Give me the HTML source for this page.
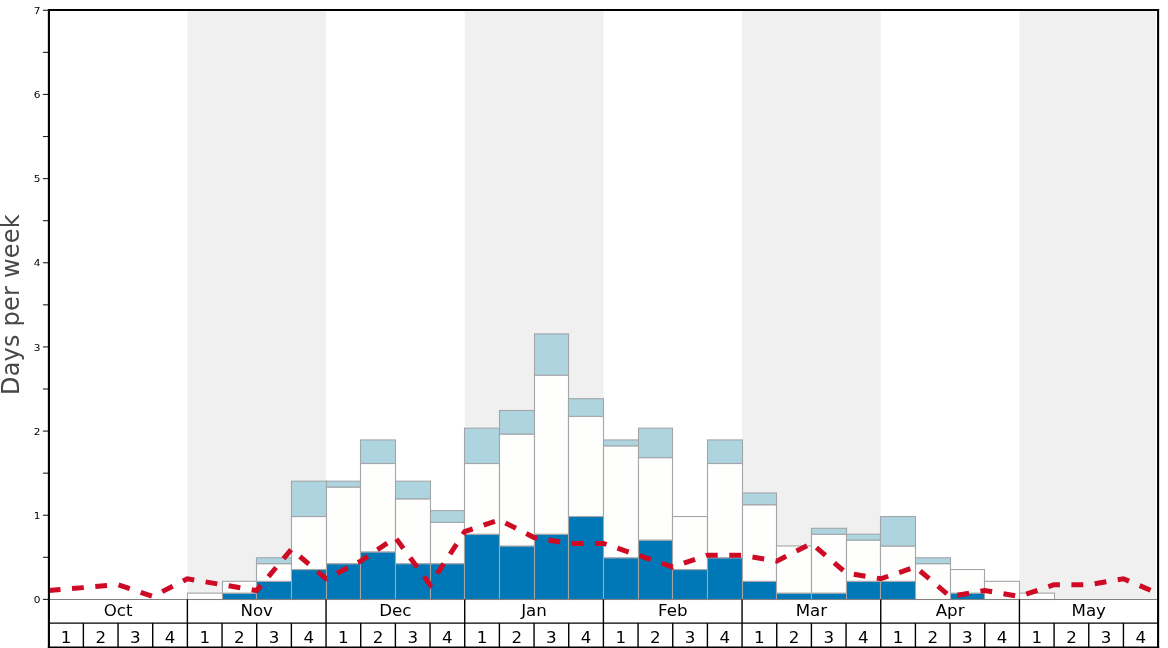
<!DOCTYPE html>
<html lang="en"><head><meta charset="utf-8"><title>Days per week</title>
<style>html,body{margin:0;padding:0;background:#fff;overflow:hidden}svg{display:block}text{font-family:"DejaVu Sans", "Liberation Sans", sans-serif}</style></head><body>
<svg width="1168" height="648" viewBox="0 0 1168 648">
<rect width="1168" height="648" fill="#fff"/>
<rect x="187.38" y="11.00" width="138.67" height="588.50" fill="#f0f0f0"/>
<rect x="464.72" y="11.00" width="138.67" height="588.50" fill="#f0f0f0"/>
<rect x="742.07" y="11.00" width="138.67" height="588.50" fill="#f0f0f0"/>
<rect x="1019.42" y="11.00" width="136.58" height="588.50" fill="#f0f0f0"/>
<g stroke="#a3a6a9" stroke-width="1.1">
<rect x="187.50" y="593.11" width="35.00" height="6.39" fill="#fefefc"/>
<rect x="222.50" y="593.11" width="34.00" height="6.39" fill="#0077b6"/>
<rect x="222.50" y="581.33" width="34.00" height="11.78" fill="#fefefc"/>
<rect x="256.50" y="581.33" width="35.00" height="18.17" fill="#0077b6"/>
<rect x="256.50" y="563.65" width="35.00" height="17.67" fill="#fefefc"/>
<rect x="256.50" y="557.76" width="35.00" height="5.89" fill="#aed4df"/>
<rect x="291.50" y="569.54" width="35.00" height="29.96" fill="#0077b6"/>
<rect x="291.50" y="516.52" width="35.00" height="53.02" fill="#fefefc"/>
<rect x="291.50" y="481.18" width="35.00" height="35.35" fill="#aed4df"/>
<rect x="326.50" y="563.65" width="34.00" height="35.85" fill="#0077b6"/>
<rect x="326.50" y="487.07" width="34.00" height="76.59" fill="#fefefc"/>
<rect x="326.50" y="481.18" width="34.00" height="5.89" fill="#aed4df"/>
<rect x="360.50" y="551.87" width="35.00" height="47.63" fill="#0077b6"/>
<rect x="360.50" y="463.50" width="35.00" height="88.37" fill="#fefefc"/>
<rect x="360.50" y="439.94" width="35.00" height="23.56" fill="#aed4df"/>
<rect x="395.50" y="563.65" width="35.00" height="35.85" fill="#0077b6"/>
<rect x="395.50" y="498.85" width="35.00" height="64.80" fill="#fefefc"/>
<rect x="395.50" y="481.18" width="35.00" height="17.67" fill="#aed4df"/>
<rect x="430.50" y="563.65" width="34.00" height="35.85" fill="#0077b6"/>
<rect x="430.50" y="522.41" width="34.00" height="41.24" fill="#fefefc"/>
<rect x="430.50" y="510.63" width="34.00" height="11.78" fill="#aed4df"/>
<rect x="464.50" y="534.20" width="35.00" height="65.30" fill="#0077b6"/>
<rect x="464.50" y="463.50" width="35.00" height="70.69" fill="#fefefc"/>
<rect x="464.50" y="428.16" width="35.00" height="35.35" fill="#aed4df"/>
<rect x="499.50" y="545.98" width="35.00" height="53.52" fill="#0077b6"/>
<rect x="499.50" y="434.05" width="35.00" height="111.93" fill="#fefefc"/>
<rect x="499.50" y="410.48" width="35.00" height="23.56" fill="#aed4df"/>
<rect x="534.50" y="534.20" width="34.00" height="65.30" fill="#0077b6"/>
<rect x="534.50" y="375.13" width="34.00" height="159.06" fill="#fefefc"/>
<rect x="534.50" y="333.90" width="34.00" height="41.24" fill="#aed4df"/>
<rect x="568.50" y="516.52" width="35.00" height="82.98" fill="#0077b6"/>
<rect x="568.50" y="416.37" width="35.00" height="100.15" fill="#fefefc"/>
<rect x="568.50" y="398.70" width="35.00" height="17.67" fill="#aed4df"/>
<rect x="603.50" y="557.76" width="35.00" height="41.74" fill="#0077b6"/>
<rect x="603.50" y="445.83" width="35.00" height="111.93" fill="#fefefc"/>
<rect x="603.50" y="439.94" width="35.00" height="5.89" fill="#aed4df"/>
<rect x="638.50" y="540.09" width="34.00" height="59.41" fill="#0077b6"/>
<rect x="638.50" y="457.61" width="34.00" height="82.48" fill="#fefefc"/>
<rect x="638.50" y="428.16" width="34.00" height="29.46" fill="#aed4df"/>
<rect x="672.50" y="569.54" width="35.00" height="29.96" fill="#0077b6"/>
<rect x="672.50" y="516.52" width="35.00" height="53.02" fill="#fefefc"/>
<rect x="707.50" y="557.76" width="35.00" height="41.74" fill="#0077b6"/>
<rect x="707.50" y="463.50" width="35.00" height="94.26" fill="#fefefc"/>
<rect x="707.50" y="439.94" width="35.00" height="23.56" fill="#aed4df"/>
<rect x="742.50" y="581.33" width="34.00" height="18.17" fill="#0077b6"/>
<rect x="742.50" y="504.74" width="34.00" height="76.59" fill="#fefefc"/>
<rect x="742.50" y="492.96" width="34.00" height="11.78" fill="#aed4df"/>
<rect x="776.50" y="593.11" width="35.00" height="6.39" fill="#0077b6"/>
<rect x="776.50" y="545.98" width="35.00" height="47.13" fill="#fefefc"/>
<rect x="811.50" y="593.11" width="35.00" height="6.39" fill="#0077b6"/>
<rect x="811.50" y="534.20" width="35.00" height="58.91" fill="#fefefc"/>
<rect x="811.50" y="528.31" width="35.00" height="5.89" fill="#aed4df"/>
<rect x="846.50" y="581.33" width="34.00" height="18.17" fill="#0077b6"/>
<rect x="846.50" y="540.09" width="34.00" height="41.24" fill="#fefefc"/>
<rect x="846.50" y="534.20" width="34.00" height="5.89" fill="#aed4df"/>
<rect x="880.50" y="581.33" width="35.00" height="18.17" fill="#0077b6"/>
<rect x="880.50" y="545.98" width="35.00" height="35.35" fill="#fefefc"/>
<rect x="880.50" y="516.52" width="35.00" height="29.46" fill="#aed4df"/>
<rect x="915.50" y="563.65" width="35.00" height="35.85" fill="#fefefc"/>
<rect x="915.50" y="557.76" width="35.00" height="5.89" fill="#aed4df"/>
<rect x="950.50" y="593.11" width="34.00" height="6.39" fill="#0077b6"/>
<rect x="950.50" y="569.54" width="34.00" height="23.56" fill="#fefefc"/>
<rect x="984.50" y="581.33" width="35.00" height="18.17" fill="#fefefc"/>
<rect x="1019.50" y="593.11" width="35.00" height="6.39" fill="#fefefc"/>
</g>
<line x1="48.70" y1="599.50" x2="1158.10" y2="599.50" stroke="#808080" stroke-width="1.2"/>
<polyline points="48.70,590.56 83.37,587.62 118.04,584.67 152.71,596.45 187.38,578.78 222.04,584.67 256.71,590.56 291.38,549.32 326.05,578.78 360.72,561.11 395.39,537.54 430.06,584.67 464.72,531.65 499.39,519.87 534.06,537.54 568.73,543.43 603.40,543.43 638.07,555.22 672.74,567.00 707.41,555.22 742.07,555.22 776.74,561.11 811.41,543.43 846.08,572.89 880.75,578.78 915.42,567.00 950.09,596.45 984.76,590.56 1019.42,596.45 1054.09,584.67 1088.76,584.67 1123.43,578.78 1158.10,593.51" fill="none" stroke="#ce0a24" stroke-width="5.0" stroke-dasharray="11.85 11.52" stroke-linejoin="miter"/>
<g stroke="#222" stroke-width="1.1">
<line x1="42.90" y1="599.40" x2="48.70" y2="599.40"/>
<line x1="42.90" y1="557.32" x2="48.70" y2="557.32"/>
<line x1="42.90" y1="515.24" x2="48.70" y2="515.24"/>
<line x1="42.90" y1="473.16" x2="48.70" y2="473.16"/>
<line x1="42.90" y1="431.08" x2="48.70" y2="431.08"/>
<line x1="42.90" y1="389.00" x2="48.70" y2="389.00"/>
<line x1="42.90" y1="346.92" x2="48.70" y2="346.92"/>
<line x1="42.90" y1="304.84" x2="48.70" y2="304.84"/>
<line x1="42.90" y1="262.76" x2="48.70" y2="262.76"/>
<line x1="42.90" y1="220.68" x2="48.70" y2="220.68"/>
<line x1="42.90" y1="178.60" x2="48.70" y2="178.60"/>
<line x1="42.90" y1="136.52" x2="48.70" y2="136.52"/>
<line x1="42.90" y1="94.44" x2="48.70" y2="94.44"/>
<line x1="42.90" y1="52.36" x2="48.70" y2="52.36"/>
<line x1="42.90" y1="10.28" x2="48.70" y2="10.28"/>
</g>
<g font-size="9.5" fill="#000" text-anchor="end">
<text x="40.50" y="603.00" textLength="6.7" lengthAdjust="spacingAndGlyphs">0</text>
<text x="40.50" y="518.84" textLength="6.7" lengthAdjust="spacingAndGlyphs">1</text>
<text x="40.50" y="434.68" textLength="6.7" lengthAdjust="spacingAndGlyphs">2</text>
<text x="40.50" y="350.52" textLength="6.7" lengthAdjust="spacingAndGlyphs">3</text>
<text x="40.50" y="266.36" textLength="6.7" lengthAdjust="spacingAndGlyphs">4</text>
<text x="40.50" y="182.20" textLength="6.7" lengthAdjust="spacingAndGlyphs">5</text>
<text x="40.50" y="98.04" textLength="6.7" lengthAdjust="spacingAndGlyphs">6</text>
<text x="40.50" y="13.88" textLength="6.7" lengthAdjust="spacingAndGlyphs">7</text>
</g>
<g stroke="#000" stroke-width="2.1" fill="none">
<path d="M48.9 648 V10 H1158.1 V648"/>
</g>
<g stroke="#000" stroke-width="1.4">
<line x1="48.70" y1="623.1" x2="1158.10" y2="623.1"/>
<line x1="47.85" y1="647.55" x2="1159.15" y2="647.55" stroke-width="2"/>
<line x1="187.38" y1="599.40" x2="187.38" y2="623.1"/>
<line x1="326.05" y1="599.40" x2="326.05" y2="623.1"/>
<line x1="464.72" y1="599.40" x2="464.72" y2="623.1"/>
<line x1="603.40" y1="599.40" x2="603.40" y2="623.1"/>
<line x1="742.07" y1="599.40" x2="742.07" y2="623.1"/>
<line x1="880.75" y1="599.40" x2="880.75" y2="623.1"/>
<line x1="1019.42" y1="599.40" x2="1019.42" y2="623.1"/>
<line x1="83.37" y1="623.1" x2="83.37" y2="648"/>
<line x1="118.04" y1="623.1" x2="118.04" y2="648"/>
<line x1="152.71" y1="623.1" x2="152.71" y2="648"/>
<line x1="187.38" y1="623.1" x2="187.38" y2="648"/>
<line x1="222.04" y1="623.1" x2="222.04" y2="648"/>
<line x1="256.71" y1="623.1" x2="256.71" y2="648"/>
<line x1="291.38" y1="623.1" x2="291.38" y2="648"/>
<line x1="326.05" y1="623.1" x2="326.05" y2="648"/>
<line x1="360.72" y1="623.1" x2="360.72" y2="648"/>
<line x1="395.39" y1="623.1" x2="395.39" y2="648"/>
<line x1="430.06" y1="623.1" x2="430.06" y2="648"/>
<line x1="464.72" y1="623.1" x2="464.72" y2="648"/>
<line x1="499.39" y1="623.1" x2="499.39" y2="648"/>
<line x1="534.06" y1="623.1" x2="534.06" y2="648"/>
<line x1="568.73" y1="623.1" x2="568.73" y2="648"/>
<line x1="603.40" y1="623.1" x2="603.40" y2="648"/>
<line x1="638.07" y1="623.1" x2="638.07" y2="648"/>
<line x1="672.74" y1="623.1" x2="672.74" y2="648"/>
<line x1="707.41" y1="623.1" x2="707.41" y2="648"/>
<line x1="742.07" y1="623.1" x2="742.07" y2="648"/>
<line x1="776.74" y1="623.1" x2="776.74" y2="648"/>
<line x1="811.41" y1="623.1" x2="811.41" y2="648"/>
<line x1="846.08" y1="623.1" x2="846.08" y2="648"/>
<line x1="880.75" y1="623.1" x2="880.75" y2="648"/>
<line x1="915.42" y1="623.1" x2="915.42" y2="648"/>
<line x1="950.09" y1="623.1" x2="950.09" y2="648"/>
<line x1="984.76" y1="623.1" x2="984.76" y2="648"/>
<line x1="1019.42" y1="623.1" x2="1019.42" y2="648"/>
<line x1="1054.09" y1="623.1" x2="1054.09" y2="648"/>
<line x1="1088.76" y1="623.1" x2="1088.76" y2="648"/>
<line x1="1123.43" y1="623.1" x2="1123.43" y2="648"/>
</g>
<g font-size="16.67" fill="#000" text-anchor="middle">
<text x="118.04" y="616">Oct</text>
<text x="256.71" y="616">Nov</text>
<text x="395.39" y="616">Dec</text>
<text x="534.06" y="616">Jan</text>
<text x="672.74" y="616">Feb</text>
<text x="811.41" y="616">Mar</text>
<text x="950.09" y="616">Apr</text>
<text x="1088.76" y="616">May</text>
<text x="66.03" y="642.9">1</text>
<text x="100.70" y="642.9">2</text>
<text x="135.37" y="642.9">3</text>
<text x="170.04" y="642.9">4</text>
<text x="204.71" y="642.9">1</text>
<text x="239.38" y="642.9">2</text>
<text x="274.05" y="642.9">3</text>
<text x="308.72" y="642.9">4</text>
<text x="343.38" y="642.9">1</text>
<text x="378.05" y="642.9">2</text>
<text x="412.72" y="642.9">3</text>
<text x="447.39" y="642.9">4</text>
<text x="482.06" y="642.9">1</text>
<text x="516.73" y="642.9">2</text>
<text x="551.40" y="642.9">3</text>
<text x="586.07" y="642.9">4</text>
<text x="620.73" y="642.9">1</text>
<text x="655.40" y="642.9">2</text>
<text x="690.07" y="642.9">3</text>
<text x="724.74" y="642.9">4</text>
<text x="759.41" y="642.9">1</text>
<text x="794.08" y="642.9">2</text>
<text x="828.75" y="642.9">3</text>
<text x="863.42" y="642.9">4</text>
<text x="898.08" y="642.9">1</text>
<text x="932.75" y="642.9">2</text>
<text x="967.42" y="642.9">3</text>
<text x="1002.09" y="642.9">4</text>
<text x="1036.76" y="642.9">1</text>
<text x="1071.43" y="642.9">2</text>
<text x="1106.10" y="642.9">3</text>
<text x="1140.77" y="642.9">4</text>
</g>
<text transform="translate(18.8,304.6) rotate(-90)" font-size="24" fill="#484848" text-anchor="middle" letter-spacing="0.22">Days per week</text>
</svg></body></html>
